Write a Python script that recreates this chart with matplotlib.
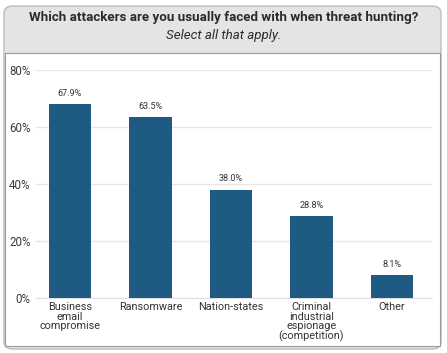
import matplotlib
matplotlib.use("Agg")
import matplotlib.pyplot as plt
from matplotlib.patches import FancyBboxPatch, Rectangle

categories = ["Business\nemail\ncompromise", "Ransomware", "Nation-states",
              "Criminal\nindustrial\nespionage\n(competition)", "Other"]
values = [67.9, 63.5, 38.0, 28.8, 8.1]
yticks = [0, 20, 40, 60, 80]
title = "Which attackers are you usually faced with when threat hunting?"
subtitle = "Select all that apply."

W, H = 447, 353
fig = plt.figure(figsize=(W / 100, H / 100), dpi=100)
fig.patch.set_facecolor("white")

# outer rounded box (header grey)
outer = FancyBboxPatch((4 / W, 4 / H), (W - 10) / W, (H - 10) / H,
                       boxstyle="round,pad=0,rounding_size=0.02",
                       transform=fig.transFigure, facecolor="#e4e4e4",
                       edgecolor="#bdbdbd", linewidth=1.0, zorder=-2)
fig.patches.append(outer)
inner = Rectangle((5 / W, 7 / H), (W - 12) / W, (H - 7 - 53) / H,
                  transform=fig.transFigure, facecolor="white",
                  edgecolor="#9a9a9a", linewidth=0.8, zorder=-1)
fig.patches.append(inner)

fig.text(0.5, 1 - 17 / H, title, ha="center", va="center", fontsize=9.6,
         fontweight="bold", family="Roboto", color="#2b2b2b")
fig.text(0.5, 1 - 36 / H, subtitle, ha="center", va="center", fontsize=9.6,
         style="italic", family="Roboto", color="#2b2b2b")

ax_left, ax_right = 36, 432
ax_bottom, ax_top = 298, 70
ax = fig.add_axes([ax_left / W, 1 - ax_bottom / H, (ax_right - ax_left) / W,
                   (ax_bottom - ax_top) / H])
ax.set_zorder(2)
ax.set_facecolor("none")

x = list(range(len(categories)))
bars = ax.bar(x, values, width=0.53, color="#1f5a82", zorder=3)
for xi, v in zip(x, values):
    ax.text(xi, v + 2.2, f"{v:.1f}%", ha="center", va="bottom", fontsize=6.5,
            family="Roboto", color="#333333")

spacing = 80.5
ax.set_xlim(-(70 - ax_left) / spacing, (ax_right - 70) / spacing)
ax.set_ylim(0, 80)
ax.set_yticks(yticks)
ax.set_yticklabels([f"{t}%" for t in yticks], fontsize=8.3, family="Roboto",
                   color="#3a3a3a")
ax.set_xticks(x)
ax.set_xticklabels(categories, fontsize=7.8, family="Roboto", color="#333333",
                   linespacing=0.95)
ax.tick_params(axis="both", length=0, pad=3)
ax.tick_params(axis="y", pad=4)
ax.grid(axis="y", color="#e6e6e6", linewidth=1, zorder=0)
for s in ["top", "right", "left"]:
    ax.spines[s].set_visible(False)
ax.spines["bottom"].set_color("#e0e0e0")

fig.savefig("out.png", dpi=100)
